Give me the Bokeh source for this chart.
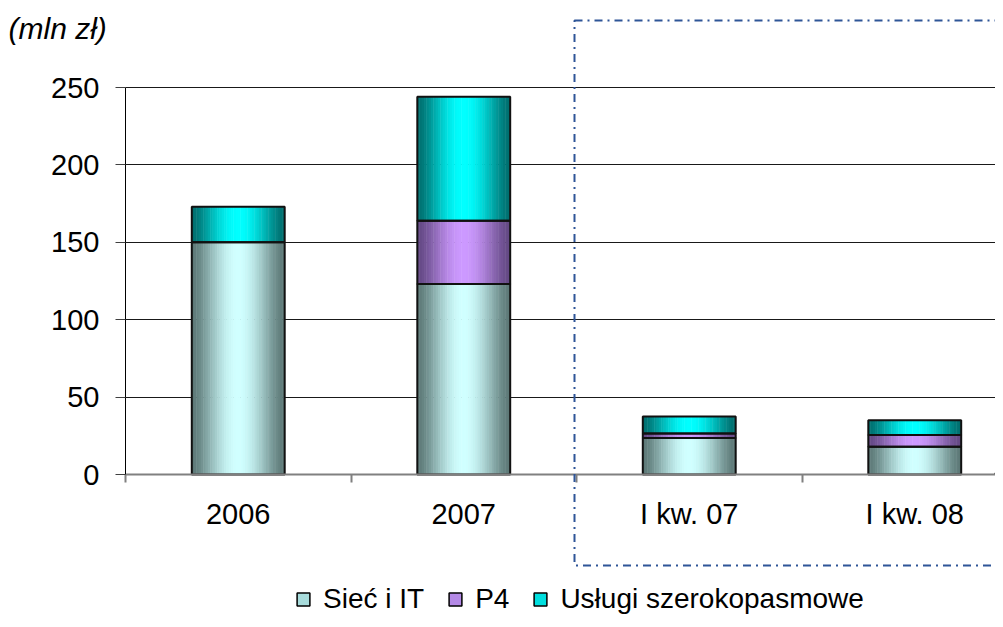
import numpy as np
from bokeh.plotting import figure
from bokeh.models import (Range1d, FixedTicker, ColumnDataSource, Legend, LegendItem,
                          BoxAnnotation, Label)
from bokeh.embed import file_html
from bokeh.resources import INLINE

# ---- data ----
categories = ["2006", "2007", "I kw. 07", "I kw. 08"]
siec = [150, 123, 23.5, 18]
p4 = [0, 41, 3, 7.5]
uslugi = [23, 80, 11, 9.5]
series_names = ["Sieć i IT", "P4", "Usługi szerokopasmowe"]
y_ticks = [0, 50, 100, 150, 200, 250]
unit_label = "(mln zł)"

FONT = "Liberation Sans"
W, H = 995, 619
X0, UX = 125.0, 225.5      # pixel of category-boundary 0, px per category
Y0, UY = 474.0, 1.548      # pixel of value 0, px per unit

p = figure(width=W, height=H, output_backend="svg", toolbar_location=None,
           x_range=Range1d(-X0 / UX, (W - X0) / UX),
           y_range=Range1d(-(H - Y0) / UY, Y0 / UY),
           min_border_left=0, min_border_right=0, min_border_top=0,
           min_border_bottom=0)
p.outline_line_color = None
p.background_fill_color = "white"
p.border_fill_color = "white"

n = len(categories)

# grid
p.xgrid.visible = False
p.ygrid.ticker = FixedTicker(ticks=[t for t in y_ticks if t > 0])
p.ygrid.grid_line_color = "#000000"
p.ygrid.grid_line_alpha = 0.9
p.ygrid.grid_line_width = 1
try:
    p.ygrid.cross_bounds = (0, n + 1)
except Exception:
    pass

# y axis
p.yaxis.fixed_location = 0
p.yaxis.bounds = (0, 250)
p.yaxis.ticker = FixedTicker(ticks=y_ticks)
p.yaxis.axis_line_color = "black"
p.yaxis.axis_line_width = 1
p.yaxis.major_tick_out = 10
p.yaxis.major_tick_in = 0
p.yaxis.major_tick_line_color = "#404040"
p.yaxis.minor_tick_line_color = None
p.yaxis.major_label_text_font = FONT
p.yaxis.major_label_text_font_size = "29px"
p.yaxis.major_label_text_color = "black"
p.yaxis.major_label_standoff = 16

# x axis
centers = [i + 0.5 for i in range(n)]
p.xaxis.fixed_location = 0
p.xaxis.bounds = (0, n + 1)
p.xaxis.ticker = FixedTicker(ticks=centers, minor_ticks=list(range(n + 1)))
p.xaxis.major_label_overrides = {c: lab for c, lab in zip(centers, categories)}
p.xaxis.major_tick_line_color = None
p.xaxis.major_tick_out = 0
p.xaxis.major_tick_in = 0
p.xaxis.minor_tick_out = 8
p.xaxis.minor_tick_in = 0
p.xaxis.minor_tick_line_color = "#808080"
p.xaxis.minor_tick_line_width = 2
p.xaxis.axis_line_color = "#808080"
p.xaxis.axis_line_width = 2
p.xaxis.major_label_text_font = FONT
p.xaxis.major_label_text_font_size = "29px"
p.xaxis.major_label_text_color = "black"
p.xaxis.major_label_standoff = 15


def hex2rgb(h):
    h = h.lstrip("#")
    return np.array([int(h[i:i + 2], 16) for i in (0, 2, 4)], dtype=float)


def mix(a, b, f):
    c = hex2rgb(a) * (1 - f) + hex2rgb(b) * f
    return "#%02x%02x%02x" % tuple(int(round(v)) for v in c)


bar_w = 0.412
N = 40
s_edge = ["#5c7876", "#634883", "#006e6e"]
s_center = ["#d0ffff", "#cc99ff", "#00ffff"]

siec_a = np.array(siec, float)
p4_a = np.array(p4, float)
usl_a = np.array(uslugi, float)
bottoms = [np.zeros(n), siec_a, siec_a + p4_a]
tops = [siec_a, siec_a + p4_a, siec_a + p4_a + usl_a]

xs, ws, bs, ts, cs = [], [], [], [], []
for si in range(3):
    for k in range(N):
        t = (k + 0.5) / N
        f = np.sin(np.pi * t) ** 1.5
        col = mix(s_edge[si], s_center[si], f)
        for i in range(n):
            if tops[si][i] - bottoms[si][i] <= 0:
                continue
            xs.append(centers[i] - bar_w / 2 + t * bar_w)
            ws.append(bar_w / N * 1.2)
            bs.append(bottoms[si][i])
            ts.append(tops[si][i])
            cs.append(col)
strip_src = ColumnDataSource(dict(x=xs, w=ws, b=bs, t=ts, c=cs))
p.vbar(x="x", width="w", bottom="b", top="t", fill_color="c", line_color=None,
       source=strip_src)

# outlines
ox, ob, ot = [], [], []
for si in range(3):
    for i in range(n):
        if tops[si][i] - bottoms[si][i] <= 0:
            continue
        ox.append(centers[i]); ob.append(bottoms[si][i]); ot.append(tops[si][i])
p.vbar(x=ox, width=bar_w, bottom=ob, top=ot, fill_alpha=0, line_color="#111111",
       line_width=2)

# legend (proxy renderers placed outside the visible range)
swatch_cols = ["#a8dcdc", "#b489e6", "#00dede"]
items = []
for name, col in zip(series_names, swatch_cols):
    r = p.vbar(x=[n + 5], width=0.1, bottom=[0], top=[1], fill_color=col,
               line_color="black", line_width=1.5)
    items.append(LegendItem(label=name, renderers=[r]))
legend = Legend(items=items, orientation="horizontal", location=(295, 4),
                label_text_font=FONT, label_text_font_size="28px",
                label_text_color="black",
                glyph_width=16, glyph_height=16, label_standoff=12, spacing=23,
                padding=0, margin=0, border_line_alpha=0, background_fill_alpha=0)
p.add_layout(legend, "center")

# dash-dot box
box = BoxAnnotation(left=(574 - X0) / UX, right=n + 0.5, top=(Y0 - 20) / UY,
                    bottom=(Y0 - 565) / UY,
                    fill_alpha=0, line_color="#2e5597", line_alpha=1, line_width=2,
                    line_dash="8 5 2 5")
p.add_layout(box)

# unit label
p.add_layout(Label(x=(8 - X0) / UX, y=(Y0 - 28) / UY, text=unit_label, text_font=FONT,
                   text_font_size="30px", text_font_style="italic",
                   text_baseline="middle", text_align="left", text_color="black"))

open("out.html", "w").write(file_html(p, INLINE))
